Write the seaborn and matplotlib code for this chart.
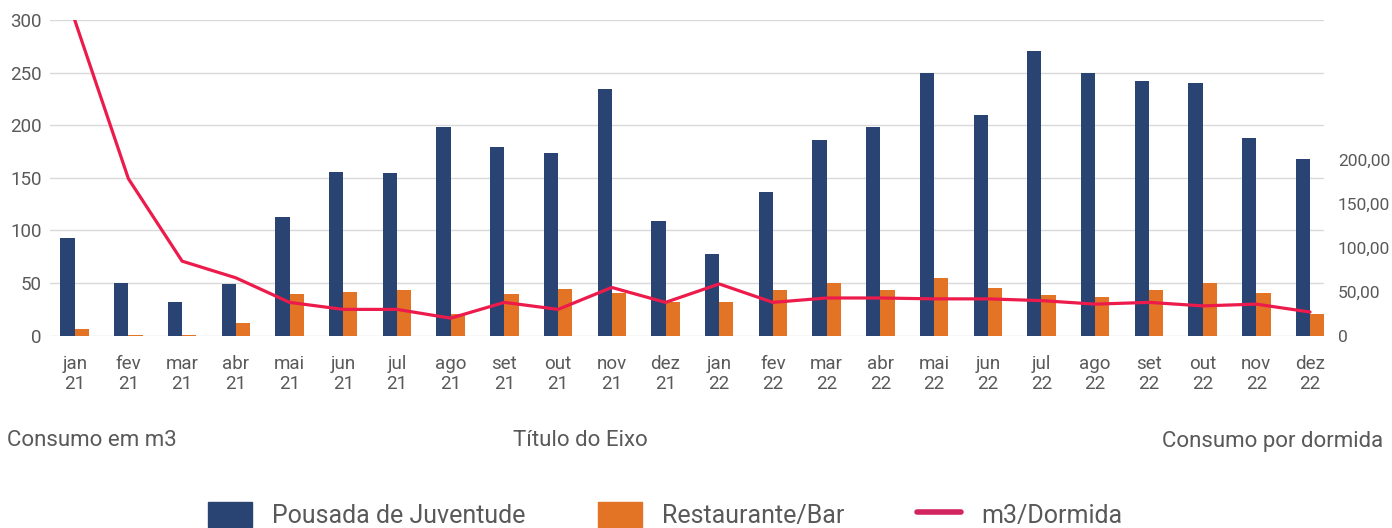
import numpy as np
import pandas as pd
import matplotlib
matplotlib.use("Agg")
import matplotlib.pyplot as plt
import seaborn as sns
from matplotlib.lines import Line2D
from matplotlib.patches import Patch

# Meses (eixo das categorias)
meses = ["jan\n21", "fev\n21", "mar\n21", "abr\n21", "mai\n21", "jun\n21",
         "jul\n21", "ago\n21", "set\n21", "out\n21", "nov\n21", "dez\n21",
         "jan\n22", "fev\n22", "mar\n22", "abr\n22", "mai\n22", "jun\n22",
         "jul\n22", "ago\n22", "set\n22", "out\n22", "nov\n22", "dez\n22"]

# Consumo em m3 (eixo principal)
pousada = [93, 50, 32, 49, 113, 156, 155, 198, 179, 174, 234, 109,
           78, 137, 186, 198, 250, 210, 271, 250, 242, 240, 188, 168]
restaurante = [6, 1, 1, 12, 40, 42, 43, 21, 40, 44, 41, 32,
               32, 43, 50, 43, 55, 45, 39, 37, 43, 50, 41, 21]

# Consumo por dormida (eixo secundário)
m3_dormida = [360, 179, 85, 66, 38, 30, 30, 20, 38, 30, 55, 38,
              59, 38, 43, 43, 42, 42, 40, 36, 38, 34, 36, 27]

series = ["Pousada de Juventude", "Restaurante/Bar"]
nome_linha = "m3/Dormida"
ticks_esq = [0, 50, 100, 150, 200, 250, 300]
ticks_dir = [0, 50, 100, 150, 200]
rotulos_dir = ["0", "50,00", "100,00", "150,00", "200,00"]
titulo_esq = "Consumo em m3"
titulo_x = "Título do Eixo"
titulo_dir = "Consumo por dormida"

AZUL = "#294373"
LARANJA = "#E37425"
VERMELHO = "#EC1B4B"
MAGENTA = "#D2245F"
CINZA_TXT = "#595959"
CINZA_GRELHA = "#D9D9D9"

sns.set_theme(style="white")
plt.rcParams["font.family"] = ["Roboto", "DejaVu Sans"]

W, H = 1392, 528
fig = plt.figure(figsize=(W / 100, H / 100), dpi=100)
ax = fig.add_axes([50 / W, 1 - 335.7 / H, 1274 / W, 315.7 / H])

df = pd.DataFrame({
    "mes": meses * 2,
    "serie": [series[0]] * len(meses) + [series[1]] * len(meses),
    "valor": pousada + restaurante,
})

sns.barplot(data=df, x="mes", y="valor", hue="serie", order=meses,
            hue_order=series, palette=[AZUL, LARANJA], saturation=1,
            width=0.53, gap=0, linewidth=0, errorbar=None, legend=False,
            ax=ax)

ax.set_ylim(0, 300)
ax.set_yticks(ticks_esq)
ax.set_axisbelow(True)
ax.grid(axis="y", color=CINZA_GRELHA, linewidth=1.0)
ax.grid(axis="x", visible=False)
ax.tick_params(axis="y", length=0, pad=6, labelsize=13.5, labelcolor=CINZA_TXT)
ax.tick_params(axis="x", length=0, pad=14, labelsize=13.5, labelcolor=CINZA_TXT)
for lbl in ax.get_xticklabels():
    lbl.set_linespacing(1.1)
ax.set_xlabel("")
ax.set_ylabel("")
for s in ax.spines.values():
    s.set_visible(False)

ax2 = ax.twinx()
sns.lineplot(x=np.arange(len(meses)), y=m3_dormida, color=VERMELHO,
             linewidth=2.3, ax=ax2)
ax2.set_ylim(0, 360)
ax2.set_yticks(ticks_dir)
ax2.set_yticklabels(rotulos_dir)
ax2.tick_params(axis="y", length=0, pad=10, labelsize=12.5, labelcolor=CINZA_TXT)
ax2.set_ylabel("")
ax2.grid(False)
for s in ax2.spines.values():
    s.set_visible(False)
ax.set_xlim(-0.46, 23.26)

fig.text(7 / W, 1 - 441 / H, titulo_esq, ha="left", va="center",
         fontsize=16, color=CINZA_TXT)
fig.text(580 / W, 1 - 441 / H, titulo_x, ha="center", va="center",
         fontsize=16, color=CINZA_TXT)
fig.text(1383 / W, 1 - 441 / H, titulo_dir, ha="right", va="center",
         fontsize=16, color=CINZA_TXT)

handles = [Patch(color=AZUL), Patch(color=LARANJA),
           Line2D([], [], color=MAGENTA, linewidth=4)]
fig.legend(handles, series + [nome_linha], loc="center",
           bbox_to_anchor=(665 / W, 1 - 515 / H), ncol=3, frameon=False,
           fontsize=18, handlelength=1.76, handleheight=1.12,
           handletextpad=0.8, columnspacing=2.9, labelcolor=CINZA_TXT)

fig.savefig("out.png", dpi=100)
